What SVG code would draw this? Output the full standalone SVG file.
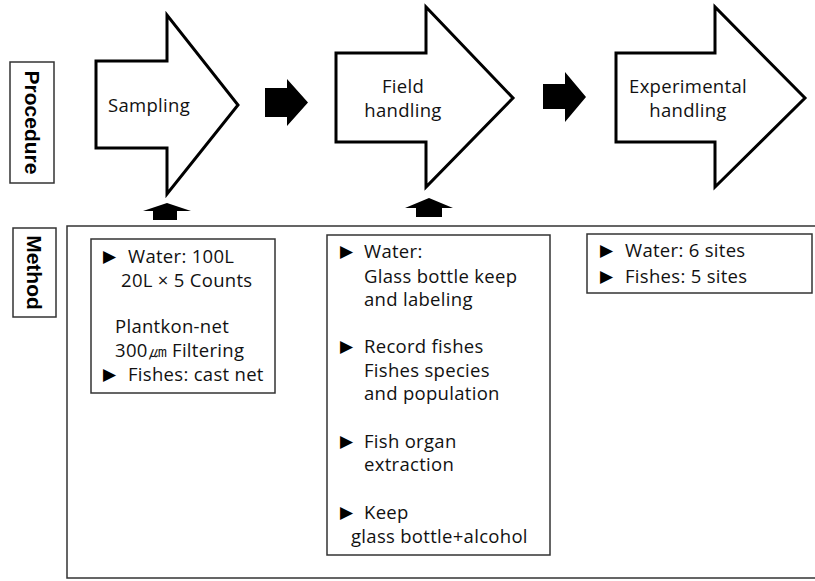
<svg xmlns="http://www.w3.org/2000/svg" width="815" height="581" viewBox="0 0 815 581">
<style>
.big{fill:#fff;stroke:#000;stroke-width:3;stroke-linejoin:miter}
.blk{fill:#000;stroke:none}
.box{fill:#fff;stroke:#333;stroke-width:1.5}
.t{font-family:"Open Sans","Liberation Sans",sans-serif;font-size:18.5px;letter-spacing:0.3px;fill:#111}
.c{text-anchor:middle}
.b{font-family:"Liberation Sans",Arial,sans-serif;font-weight:bold;font-size:21px;fill:#000;text-anchor:middle}
.tri{font-family:"DejaVu Sans",sans-serif;font-size:17px;fill:#000}
</style>
<rect width="815" height="581" fill="#fff"/>
<g id="label-procedure">
<rect class="box" x="10" y="62" width="44" height="121"/>
<text class="b" transform="translate(32,122.5) rotate(90)" y="7.5">Procedure</text>
</g>
<g id="label-method">
<rect class="box" x="13" y="228" width="43" height="89"/>
<text class="b" transform="translate(34.5,272.5) rotate(90)" y="7.5">Method</text>
</g>
<g id="method-area">
<rect class="box" x="67" y="226" width="760" height="352"/>
</g>
<g id="sampling">
<polygon class="big" points="96,61 167,61 167,15 238,105 167,194 167,148 96,148"/>
<text class="t c" x="149" y="112">Sampling</text>
</g>
<g id="field-handling">
<polygon class="big" points="336,53 426,53 426,7 513,98 426,187 426,142 336,142"/>
<text class="t c" x="403" y="93">Field</text>
<text class="t c" x="403" y="117">handling</text>
</g>
<g id="experimental-handling">
<polygon class="big" points="616,53 715,53 715,7 805,98 715,187 715,142 616,142"/>
<text class="t c" x="688" y="93">Experimental</text>
<text class="t c" x="688" y="117">handling</text>
</g>
<g id="connectors">
<polygon class="blk" points="265,88 287,88 287,79 308,102.5 287,126 287,117 265,117"/>
<polygon class="blk" points="543,84 565,84 565,72 586,97 565,122 565,109 543,109"/>
<polygon class="blk" points="167,203 191,211 177,211 177,220 153,220 153,211 143,211"/>
<polygon class="blk" points="429,198 453,208 442,208 442,217 416,217 416,208 405,208"/>
</g>
<g id="sampling-method">
<rect class="box" x="91" y="239" width="184" height="154"/>
<text class="tri" x="103" y="262">▶</text>
<text class="t" x="128" y="263">Water: 100L</text>
<text class="t" x="121" y="287">20L × 5 Counts</text>
<text class="t" x="115" y="333">Plantkon-net</text>
<text class="t" x="115" y="357">300㎛ Filtering</text>
<text class="tri" x="103" y="380">▶</text>
<text class="t" x="128" y="381">Fishes: cast net</text>
</g>
<g id="field-method">
<rect class="box" x="327" y="235" width="223" height="320"/>
<text class="tri" x="340" y="257">▶</text>
<text class="t" x="364" y="258">Water:</text>
<text class="t" x="364" y="283">Glass bottle keep</text>
<text class="t" x="364" y="306">and labeling</text>
<text class="tri" x="340" y="352">▶</text>
<text class="t" x="364" y="353">Record fishes</text>
<text class="t" x="364" y="377">Fishes species</text>
<text class="t" x="364" y="400">and population</text>
<text class="tri" x="340" y="447">▶</text>
<text class="t" x="364" y="448">Fish organ</text>
<text class="t" x="364" y="471">extraction</text>
<text class="tri" x="340" y="518">▶</text>
<text class="t" x="364" y="519">Keep</text>
<text class="t" x="351" y="543">glass bottle+alcohol</text>
</g>
<g id="experimental-method">
<rect class="box" x="587" y="234" width="225" height="59"/>
<text class="tri" x="600" y="256">▶</text>
<text class="t" x="625" y="257">Water: 6 sites</text>
<text class="tri" x="600" y="282">▶</text>
<text class="t" x="625" y="283">Fishes: 5 sites</text>
</g>
</svg>
